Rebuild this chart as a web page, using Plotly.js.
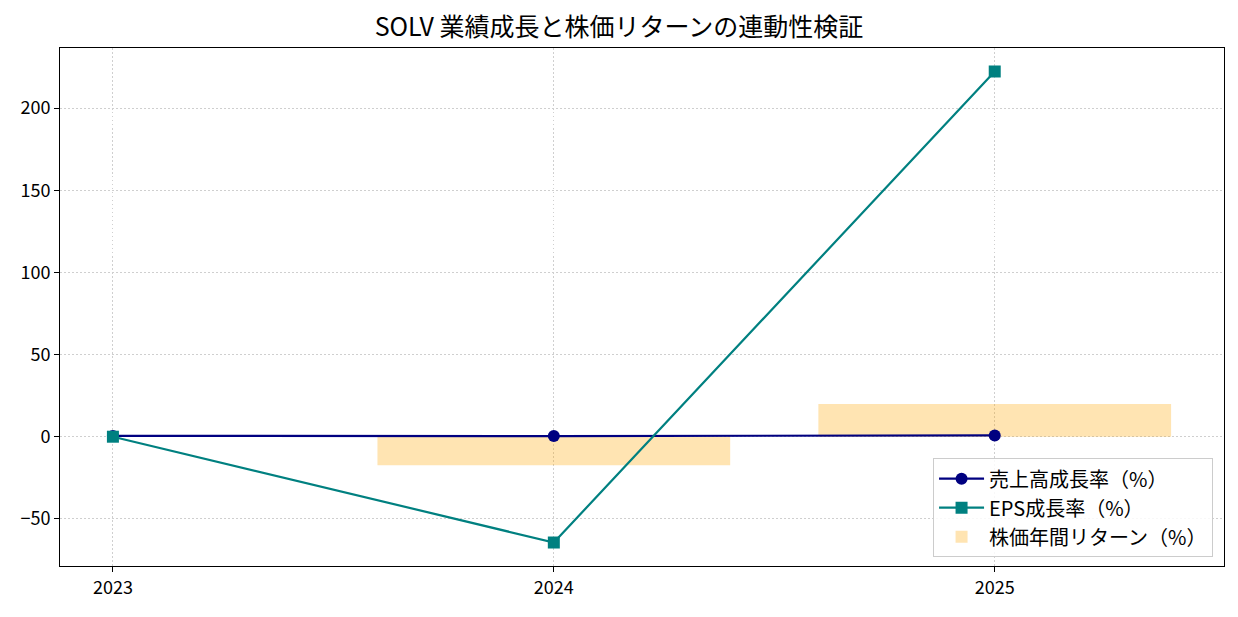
<!DOCTYPE html>
<html>
<head>
<meta charset="utf-8">
<script src="https://cdn.plot.ly/plotly-3.0.1.min.js"></script>
<style>html,body{margin:0;padding:0;background:#fff}#chart{width:1238px;height:617px}</style>
</head>
<body>
<div id="chart"></div>
<script>
const years = ['2023', '2024', '2025'];
const revenueGrowth = [0.5, 0.4, 0.8];
const epsGrowth = [0.0, -64.4, 222.3];
const stockReturn = [null, -17.3, 19.9];

const FONT = '"Noto Sans CJK JP", "DejaVu Sans", sans-serif';

const traces = [
  {
    type: 'scatter', mode: 'lines+markers', x: years, y: revenueGrowth,
    name: '売上高成長率（%）',
    line: {color: '#000080', width: 2.2},
    marker: {color: '#000080', symbol: 'circle', size: 12}
  },
  {
    type: 'scatter', mode: 'lines+markers', x: years, y: epsGrowth,
    name: 'EPS成長率（%）',
    line: {color: '#008080', width: 2.2},
    marker: {color: '#008080', symbol: 'square', size: 12}
  },
  {
    type: 'bar', x: years, y: stockReturn, width: 0.8,
    name: '株価年間リターン（%）',
    marker: {color: 'rgba(255,165,0,0.3)', line: {width: 0}}
  }
];

const layout = {
  width: 1238, height: 617,
  margin: {l: 60, r: 14, t: 48, b: 51},
  paper_bgcolor: '#fff', plot_bgcolor: '#fff',
  font: {family: FONT, size: 18, color: '#000'},
  title: {text: 'SOLV 業績成長と株価リターンの連動性検証', x: 0.5, xanchor: 'center', y: 0.956, yanchor: 'middle', font: {family: FONT, size: 25, color: '#000'}},
  showlegend: true,
  legend: {
    x: 0.9906, y: 0.017, xanchor: 'right', yanchor: 'bottom',
    bgcolor: 'rgba(255,255,255,0.85)', bordercolor: '#cccccc', borderwidth: 1,
    font: {family: FONT, size: 20, color: '#000'},
    traceorder: 'normal', itemwidth: 45, tracegroupgap: 0
  },
  xaxis: {
    type: 'category', range: [-0.12, 2.52],
    showgrid: true, gridcolor: '#cfcfcf', griddash: '1.5px,2.5px', gridwidth: 1,
    zeroline: false, showline: true, mirror: true, linecolor: '#000', linewidth: 1,
    ticks: 'outside', ticklen: 5, tickcolor: '#000',
    tickfont: {family: FONT, size: 18, color: '#000'}
  },
  yaxis: {
    range: [-78.7, 236.6],
    tickvals: [-50, 0, 50, 100, 150, 200],
    ticktext: ['−50', '0', '50', '100', '150', '200'],
    showgrid: true, gridcolor: '#cfcfcf', griddash: '1.5px,2.5px', gridwidth: 1,
    zeroline: false, showline: true, mirror: true, linecolor: '#000', linewidth: 1,
    ticks: 'outside', ticklen: 5, tickcolor: '#000',
    tickfont: {family: FONT, size: 18, color: '#000'}
  }
};

Plotly.newPlot('chart', traces, layout, {displayModeBar: false, staticPlot: true});
</script>
</body>
</html>
